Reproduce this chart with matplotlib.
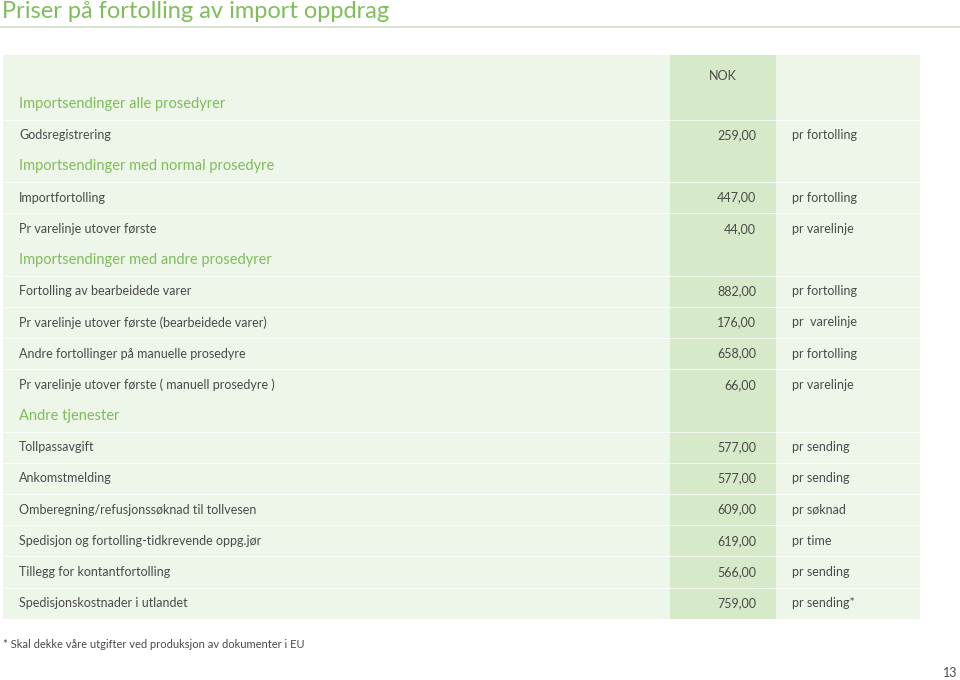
import matplotlib.pyplot as plt
from matplotlib.patches import Rectangle

plt.rcParams['font.family'] = ['Lato', 'DejaVu Sans']

# rader i tabellen: (type, tekst, pris, enhet)
overskrifter = ['Importsendinger alle prosedyrer',
                'Importsendinger med normal prosedyre',
                'Importsendinger med andre prosedyrer',
                'Andre tjenester']
tjenester = [
    ['Godsregistrering'],
    ['Importfortolling', 'Pr varelinje utover første'],
    ['Fortolling av bearbeidede varer', 'Pr varelinje utover første (bearbeidede varer)',
     'Andre fortollinger på manuelle prosedyre', 'Pr varelinje utover første ( manuell prosedyre )'],
    ['Tollpassavgift', 'Ankomstmelding', 'Omberegning/refusjonssøknad til tollvesen',
     'Spedisjon og fortolling-tidkrevende oppg.jør', 'Tillegg for kontantfortolling',
     'Spedisjonskostnader i utlandet'],
]
priser = [
    [259.00],
    [447.00, 44.00],
    [882.00, 176.00, 658.00, 66.00],
    [577.00, 577.00, 609.00, 619.00, 566.00, 759.00],
]
enheter = [
    ['pr fortolling'],
    ['pr fortolling', 'pr varelinje'],
    ['pr fortolling', 'pr  varelinje', 'pr fortolling', 'pr varelinje'],
    ['pr sending', 'pr sending', 'pr søknad', 'pr time', 'pr sending', 'pr sending*'],
]

gronn = '#7fbd5b'
tekst = '#4a4a4a'
bakgrunn = '#eef5e9'
kolonne = '#d6e9c9'

def kr(v):
    return '{:.2f}'.format(v).replace('.', ',')

fig = plt.figure(figsize=(9.6, 6.8), dpi=100)
ax = fig.add_axes([0, 0, 1, 1])
ax.set_xlim(0, 960)
ax.set_ylim(680, 0)
ax.axis('off')

# tittel
ax.text(2, 12, 'Priser på fortolling av import oppdrag', fontsize=17, color=gronn, va='center')
ax.plot([0, 960], [27, 27], color='#cfdcc6', lw=1.2)

rad_h = 31.2
y0 = 104
topp = 55
bunn = 619
ax.add_patch(Rectangle((3, topp), 917, bunn - topp, color=bakgrunn, lw=0))
ax.add_patch(Rectangle((670, topp), 106, bunn - topp, color=kolonne, lw=0))
ax.text(723, 76, 'NOK', fontsize=9, color=tekst, ha='center', va='center')

i = 0
for s, tittel in enumerate(overskrifter):
    y = y0 + i * rad_h
    ax.text(19, y, tittel, fontsize=10.5, color=gronn, va='center')
    i += 1
    for navn, pris, enhet in zip(tjenester[s], priser[s], enheter[s]):
        y = y0 + i * rad_h
        ax.plot([3, 920], [y - rad_h / 2, y - rad_h / 2], color='white', lw=0.8, alpha=0.7)
        ax.text(19, y, navn, fontsize=9, color=tekst, va='center')
        ax.text(756, y, kr(pris), fontsize=9, color=tekst, ha='right', va='center')
        ax.text(792, y, enhet, fontsize=9, color=tekst, va='center')
        i += 1

ax.text(3, 644, '* Skal dekke våre utgifter ved produksjon av dokumenter i EU', fontsize=8,
        color=tekst, va='center')
ax.text(957, 673, '13', fontsize=9, color=tekst, ha='right', va='center')

fig.savefig('out.png', dpi=100)
